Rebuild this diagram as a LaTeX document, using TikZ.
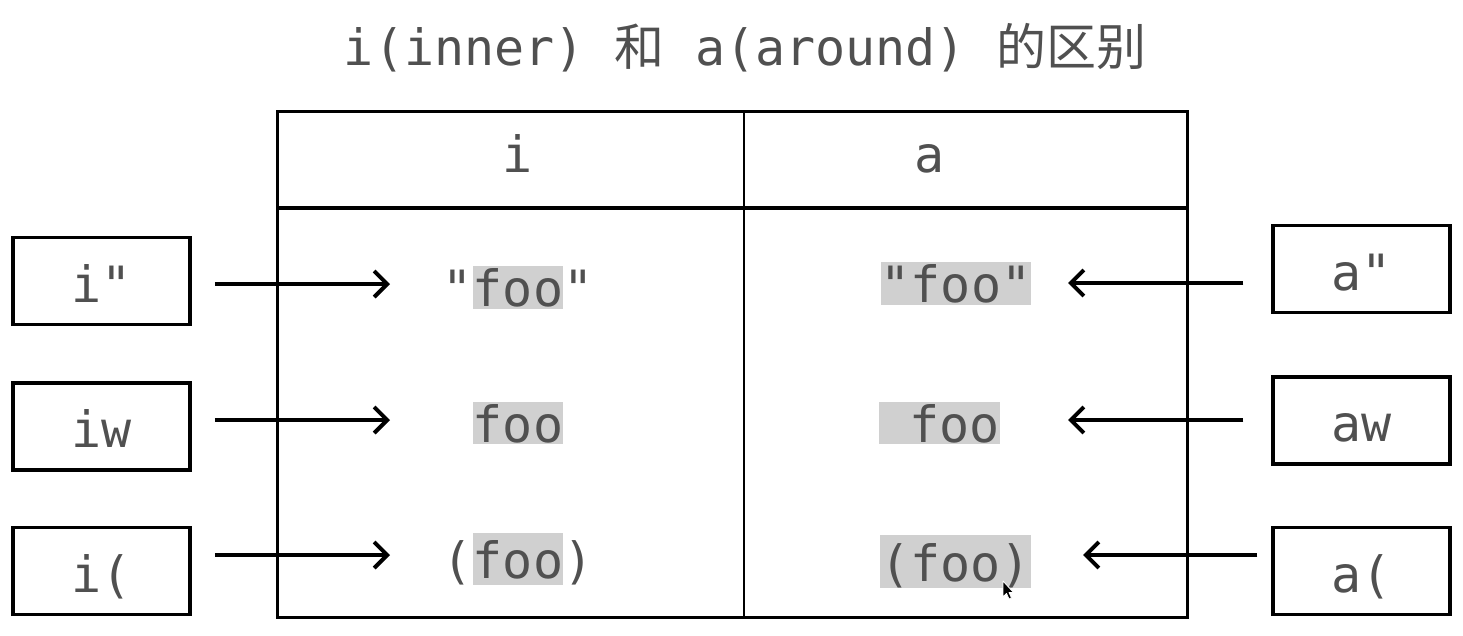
\documentclass[tikz,border=0pt]{standalone}
\usepackage{fontspec}
\setmonofont{DejaVu Sans Mono}
\newfontfamily\cjk{Noto Sans CJK SC}
\usetikzlibrary{arrows.meta}
\newcommand\monofnt{\ttfamily\fontsize{50}{60}\selectfont}
\definecolor{txtgray}{HTML}{505050}
\definecolor{hlgray}{HTML}{D0D0D0}
\tikzset{
  txt/.style={font=\monofnt, text=txtgray, inner sep=0pt},
  hl/.style={txt, fill=hlgray},
  keybox/.style={txt, draw=black, line width=3.5pt, minimum width=177pt, minimum height=87pt, text height=42pt, text depth=0pt},
  arr/.style={line width=3.5pt, -{Straight Barb[length=13pt,width=26pt,line width=4pt]}},
  tblline/.style={line width=3pt, black},
}
\begin{document}
\begin{tikzpicture}[x=1pt,y=-1pt]
\useasboundingbox (0,0) rectangle (1463,635);
% title
\node[txt, anchor=base] (title) at (745,65) {i(inner) {\cjk 和} a(around) {\cjk 的区别}};
% table
\draw[tblline] (277,111) rectangle (1187,617);
\draw[line width=4pt] (277,208) -- (1187,208);
\draw[line width=2.5pt] (744,111) -- (744,617);
\node[txt, anchor=base] (hi) at (518,172) {i};
\node[txt, anchor=base] (ha) at (930,172) {a};
% left keys
\node[keybox] (lb1) at (101.5,281) {i"};
\node[keybox] (lb2) at (101.5,426.5) {iw};
\node[keybox] (lb3) at (101.5,571) {i(};
% right keys
\node[keybox] (rb1) at (1361.5,269) {a"};
\node[keybox] (rb2) at (1361.5,420.5) {aw};
\node[keybox] (rb3) at (1361.5,571) {a(};
% inner cells
\node[hl, anchor=base, text height=40pt, text depth=3pt] (f1) at (518,306) {foo};
\node[txt, anchor=base east] (q1l) at (f1.base west) {"};
\node[txt, anchor=base west] (q1r) at (f1.base east) {"};
\node[hl, anchor=base, text height=40pt, text depth=2pt] (f2) at (518,442) {foo};
\node[hl, anchor=base, text height=45pt, text depth=7pt] (f3) at (518,578) {foo};
\node[txt, anchor=base east] (p3l) at (f3.base west) {(};
\node[txt, anchor=base west] (p3r) at (f3.base east) {)};
% around cells
\node[hl, anchor=base, text height=40pt, text depth=3pt] (g1) at (956,302) {"foo"};
\node[hl, anchor=base, text height=40pt, text depth=2pt] (g2) at (939.5,442) {\hphantom{f}foo};
\node[hl, anchor=base, text height=46pt, text depth=7pt] (g3) at (955.5,581) {(foo)};
% arrow tips
\coordinate (t1) at (390,284);
\coordinate (t2) at (390,420);
\coordinate (t3) at (390,555);
\coordinate (u1) at (1068,283);
\coordinate (u2) at (1068,420);
\coordinate (u3) at (1083,555);
\draw[arr, shorten <=23pt] (lb1.east |- t1) -- (t1);
\draw[arr, shorten <=23pt] (lb2.east |- t2) -- (t2);
\draw[arr, shorten <=23pt] (lb3.east |- t3) -- (t3);
\draw[arr, shorten <=28pt] (rb1.west |- u1) -- (u1);
\draw[arr, shorten <=28pt] (rb2.west |- u2) -- (u2);
\draw[arr, shorten <=14pt] (rb3.west |- u3) -- (u3);
% mouse cursor
\filldraw[fill=black, draw=white, line width=0.8pt, line join=round]
  (1003,581) -- (1003,597) -- (1006.5,593.5) -- (1009,599) -- (1011.5,598) -- (1009,592.5) -- (1013.5,592.5) -- cycle;
\end{tikzpicture}
\end{document}
